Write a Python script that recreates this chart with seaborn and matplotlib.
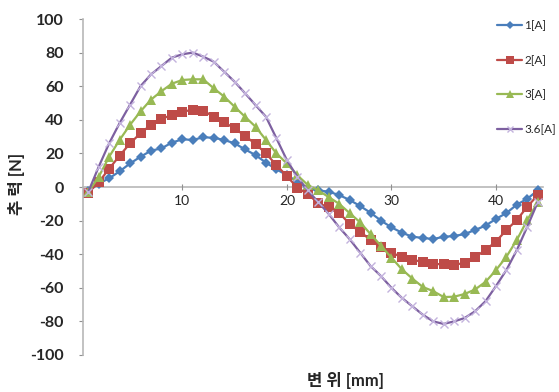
import numpy as np
import pandas as pd
import matplotlib
matplotlib.use("Agg")
import matplotlib.pyplot as plt
import seaborn as sns

# displacement category (mm)
disp = list(range(1, 45))

s_1A = [-2.5, 2, 5.2, 9.3, 14, 18, 21.6, 23, 26.4, 28.4, 28, 29.6, 29.3, 28, 26,
        22.4, 19, 14.5, 10.5, 7.1, 3.2, -0.8, -2, -2.8, -4.8, -7.7, -11.3, -15.3, -20, -24,
        -27.2, -29.6, -30.3, -31, -29.6, -29.2, -28, -25.6, -23, -19, -15.5, -10.5, -7, -2]
s_2A = [-3.4, 2.8, 10.9, 18.6, 26, 32, 37, 40.7, 42.7, 44.8, 46, 45.5, 41.8, 38.4, 35,
        30.4, 25.6, 20, 13, 6.5, -0.4, -4.2, -9.7, -12, -15.3, -22, -26.6, -31.5, -36, -39,
        -41.8, -43.5, -44.4, -45.8, -46, -46.5, -45, -41.8, -37.5, -32.5, -25.6, -19.6, -11.7, -4.8]
s_3A = [-3, 6, 18, 28, 37, 45, 52, 57, 61.5, 63.7, 64.1, 64.1, 58.8, 53.8, 47.8,
        41.8, 35.9, 28, 20, 14, 7, 1.2, -2, -6, -10, -15.5, -21, -28, -35, -42,
        -49, -54.5, -59.5, -62, -65.5, -65.3, -63.7, -61, -56.5, -49.5, -41.5, -31.5, -19.6, -9]
s_36A = [-3, 12, 26, 38, 49, 60, 67, 72, 77, 79, 80, 77.6, 74.6, 68.6, 62.7,
         55.8, 48.8, 41.8, 29, 16, 6, -2, -9, -16, -24, -31, -39, -47, -53, -60,
         -66, -71, -76, -80, -81.5, -80, -78, -74, -68, -59, -49.4, -37.5, -23.6, -9]

labels = ["1[A]", "2[A]", "3[A]", "3.6[A]"]
yticks = [-100, -80, -60, -40, -20, 0, 20, 40, 60, 80, 100]
xticks = [10, 20, 30, 40]

sns.set_style("white")
plt.rcParams["font.family"] = ["Lato", "Noto Sans CJK KR", "DejaVu Sans"]

fig = plt.figure(figsize=(5.59, 3.92), dpi=100)
ax = fig.add_axes([83 / 559, 1 - 355 / 392, 460 / 559, 336 / 392])

series = [
    (s_1A, labels[0], "#4A7EBB", "D", 5, "#4A7EBB"),
    (s_2A, labels[1], "#BE4B48", "s", 7, "#BE4B48"),
    (s_3A, labels[2], "#98B954", "^", 7.5, "#98B954"),
    (s_36A, labels[3], "#7D60A0", "x", 6, "#C3B3DD"),
]
for vals, lab, col, mk, ms, mec in series:
    sns.lineplot(x=disp, y=vals, ax=ax, color=col, lw=1.6, marker=mk,
                 markersize=ms, markerfacecolor=mec, markeredgecolor=mec,
                 markeredgewidth=1.0 if mk == "x" else 0, label=lab)

ax.set_xlim(0.5, 44.5)
ax.set_ylim(-100, 100)
ax.set_yticks(yticks)
ax.set_yticklabels([str(v) for v in yticks], fontsize=11.5, fontweight="bold")
ax.set_xticks(xticks)
ax.set_xticklabels([str(v) for v in xticks], fontsize=12, fontweight="bold")

for s in ["top", "right"]:
    ax.spines[s].set_visible(False)
ax.spines["bottom"].set_position(("data", 0))
ax.spines["bottom"].set_color("#B8B8B8")
ax.spines["left"].set_color("#B8B8B8")
ax.spines["bottom"].set_linewidth(1.2)
ax.spines["left"].set_linewidth(1.2)
ax.spines["bottom"].set_zorder(0)
ax.tick_params(axis="x", direction="inout", length=5, color="#909090", pad=3,
               bottom=True)
ax.tick_params(axis="y", direction="out", length=3, color="#909090", pad=11,
               left=True)

ax.set_ylabel("추 력 [N]", fontsize=12, fontweight="bold")
ax.yaxis.set_label_coords(-0.125, 0.51)
ax.set_xlabel("변 위 [mm]", fontsize=12, fontweight="bold")
ax.xaxis.set_label_coords(0.57, -0.05)

leg = ax.legend(loc="upper left", bbox_to_anchor=(489 / 559, 1 - 12 / 392),
                bbox_transform=fig.transFigure, frameon=False, fontsize=8.5,
                labelspacing=2.0, handlelength=2.1, handletextpad=0.2,
                borderpad=0.2, markerscale=0.8)

fig.savefig("out.png", dpi=100)
